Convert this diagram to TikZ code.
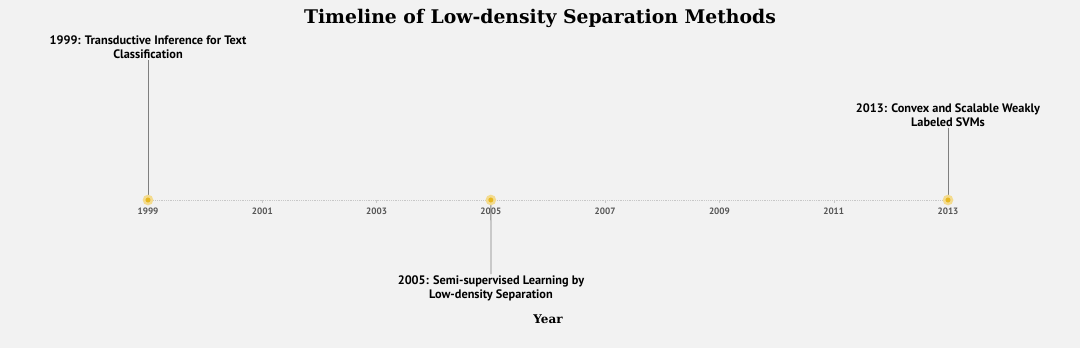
\documentclass[tikz,border=0pt]{standalone}
\usepackage{fontspec}
\setmainfont{PT Sans}
\newfontfamily\titlefont{DejaVu Serif}
\usepackage{tikz}
\usetikzlibrary{positioning,calc}
\definecolor{bgcol}{HTML}{F2F2F2}
\definecolor{stemcol}{HTML}{7F7F7F}
\definecolor{dotcol}{HTML}{E8B820}
\definecolor{axiscol}{HTML}{C8C8C8}
\definecolor{tickcol}{HTML}{555555}
\tikzset{%
  event/.style={align=center,font=\fontsize{12.3}{14}\selectfont\bfseries,text=black,inner sep=1pt},
  yearlbl/.style={font=\fontsize{9.2}{10}\selectfont\bfseries,text=tickcol,inner sep=0pt},
  stem/.style={draw=stemcol,line width=0.8pt},
  marker/.style={circle,fill=dotcol,minimum size=8pt,inner sep=0pt,draw=dotcol!50,line width=2.5pt}%
}

\begin{document}
\begin{tikzpicture}[x=1pt,y=-1pt]

\useasboundingbox[fill=bgcol] (0,0) rectangle (1080,348);

% Title and axis title
\node[font=\titlefont\fontsize{18.8}{21}\selectfont\bfseries] (title) at (540,18)
{Timeline of Low-density Separation Methods};
\node[font=\titlefont\fontsize{12}{14}\selectfont\bfseries] (xtitle) at (548,319) {Year};

% Axis
\coordinate (start) at (148,200);
\coordinate (end) at (948,200);
\draw[axiscol,densely dotted,line width=0.8pt] (start) -- (end);

\foreach \yr in {1999,2001,...,2013}{
  \coordinate (t\yr) at ({148+(\yr-1999)*800/14},200);
  \draw[axiscol,line width=0.4pt] (t\yr) -- ++(0,3);
  \node[yearlbl] (y\yr) at ($(t\yr)+(0,11)$) {\yr};
}

% Events
\node[event] (ev1999) at (148,47)
{1999: Transductive Inference for Text\\Classification};
\node[event] (ev2005) at (491,288)
{2005: Semi-supervised Learning by\\Low-density Separation};
\node[event] (ev2013) at (948,115)
{2013: Convex and Scalable Weakly\\Labeled SVMs};

\draw[stem] (ev1999.south) -- (t1999);
\draw[stem] (t2005) -- (ev2005.north);
\draw[stem] (ev2013.south) -- (t2013);

\foreach \yr in {1999,2005,2013}{
  \node[marker] (m\yr) at (t\yr) {};
}

\end{tikzpicture}
\end{document}
